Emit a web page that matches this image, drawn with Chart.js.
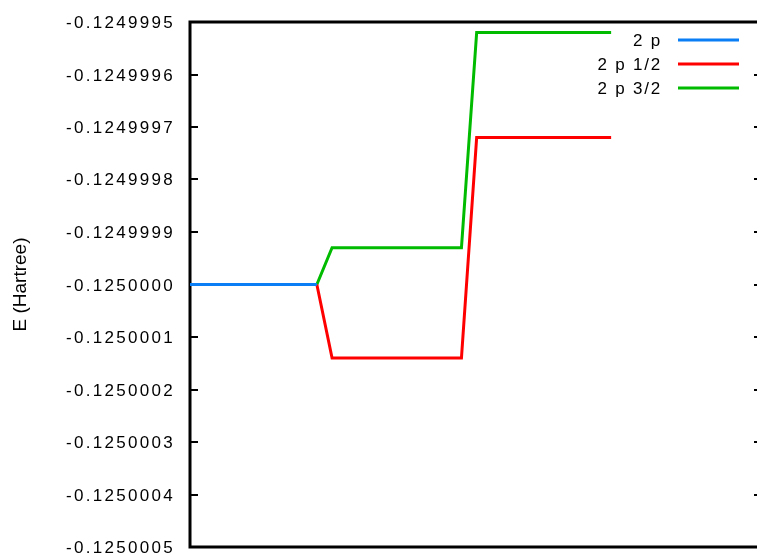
<!DOCTYPE html>
<html>
<head>
<meta charset="UTF-8" />
<title>Niveles 2p</title>
<script src="https://cdn.jsdelivr.net/npm/chart.js"></script>
<style>
  body { margin: 0; background: #fff; }
  #wrap { width: 758px; height: 558px; }
</style>
</head>
<body>
<div id="wrap"><canvas id="grafico"></canvas></div>
<script>
// datos (x sin unidades, energia en Hartree)
var seriesLabels = ['2 p', '2 p 1/2', '2 p 3/2'];
var seriesColors = ['#0a7ff5', '#ff0000', '#00bb00'];
var x2p = [0, 1];
var e2p = [-0.125, -0.125];
var xSplit = [1, 1.12, 2.14, 2.26, 3.32];
var e2p12 = [-0.125, -0.12500014, -0.12500014, -0.12499972, -0.12499972];
var e2p32 = [-0.125, -0.12499993, -0.12499993, -0.12499952, -0.12499952];
var yTicks = [-0.1250005, -0.1250004, -0.1250003, -0.1250002, -0.1250001, -0.125,
              -0.1249999, -0.1249998, -0.1249997, -0.1249996, -0.1249995];
var xMax = 4.47;

function pts(xs, ys) {
  return xs.map(function (x, i) { return { x: x, y: ys[i] }; });
}

var fuente = '17px "Liberation Sans", Arial, sans-serif';

// marco, marcas, etiquetas del eje y leyenda estilo gnuplot
var marco = {
  id: 'marco',
  beforeDatasetsDraw: function (chart) {
    var ctx = chart.ctx;
    var a = chart.chartArea;
    var ys = chart.scales.y;
    ctx.save();
    ctx.strokeStyle = '#000';
    ctx.lineWidth = 3;
    ctx.beginPath();
    ctx.moveTo(a.right, a.top); ctx.lineTo(a.left, a.top);
    ctx.lineTo(a.left, a.bottom); ctx.lineTo(a.right, a.bottom);
    ctx.stroke();
    ctx.lineWidth = 2;
    ctx.font = fuente;
    ctx.letterSpacing = '2.3px';
    ctx.fillStyle = '#000';
    ctx.textAlign = 'right';
    ctx.textBaseline = 'middle';
    ys.ticks.forEach(function (t) {
      var py = Math.round(ys.getPixelForValue(t.value));
      ctx.beginPath();
      ctx.moveTo(a.left, py); ctx.lineTo(a.left + 8, py);
      ctx.moveTo(a.right - 3, py); ctx.lineTo(a.right, py);
      ctx.stroke();
      ctx.fillText(t.value.toFixed(7), 175, py + 1);
    });
    ctx.restore();
  },
  afterDraw: function (chart) {
    var ctx = chart.ctx;
    ctx.save();
    ctx.font = fuente;
    ctx.letterSpacing = '1.8px';
    ctx.textAlign = 'right';
    ctx.textBaseline = 'middle';
    chart.data.datasets.forEach(function (ds, i) {
      var py = 40 + i * 24;
      ctx.fillStyle = '#000';
      ctx.fillText(ds.label, 662, py + 1);
      ctx.strokeStyle = ds.borderColor;
      ctx.lineWidth = 3;
      ctx.beginPath();
      ctx.moveTo(678, py); ctx.lineTo(739, py);
      ctx.stroke();
    });
    ctx.restore();
  }
};

var ctx = document.getElementById('grafico').getContext('2d');
var config = {
  type: 'line',
  data: {
    datasets: [
      { label: seriesLabels[0], data: pts(x2p, e2p), borderColor: seriesColors[0] },
      { label: seriesLabels[1], data: pts(xSplit, e2p12), borderColor: seriesColors[1] },
      { label: seriesLabels[2], data: pts(xSplit, e2p32), borderColor: seriesColors[2] }
    ]
  },
  options: {
    responsive: true,
    maintainAspectRatio: false,
    animation: false,
    elements: {
      line: { borderWidth: 3, tension: 0, fill: false, borderCapStyle: 'butt' },
      point: { radius: 0 }
    },
    layout: { padding: { top: 22, right: 1, left: 0, bottom: 0 } },
    plugins: { legend: { display: false }, tooltip: { enabled: false } },
    scales: {
      x: {
        type: 'linear',
        min: 0,
        max: xMax,
        ticks: { display: false },
        grid: { display: false, drawTicks: false },
        border: { display: false },
        afterFit: function (s) { s.height = 11; }
      },
      y: {
        type: 'linear',
        min: yTicks[0],
        max: yTicks[yTicks.length - 1],
        afterBuildTicks: function (s) {
          s.ticks = yTicks.map(function (v) { return { value: v }; });
        },
        afterFit: function (s) { s.width = 190; },
        ticks: { display: false },
        grid: { display: false, drawTicks: false },
        border: { display: false },
        title: {
          display: true,
          text: 'E (Hartree)',
          color: '#000',
          padding: { top: 9, bottom: 0 },
          font: { family: '"Liberation Sans", Arial, sans-serif', size: 19 }
        }
      }
    }
  },
  plugins: [marco]
};
var grafico = new Chart(ctx, config);
</script>
</body>
</html>
